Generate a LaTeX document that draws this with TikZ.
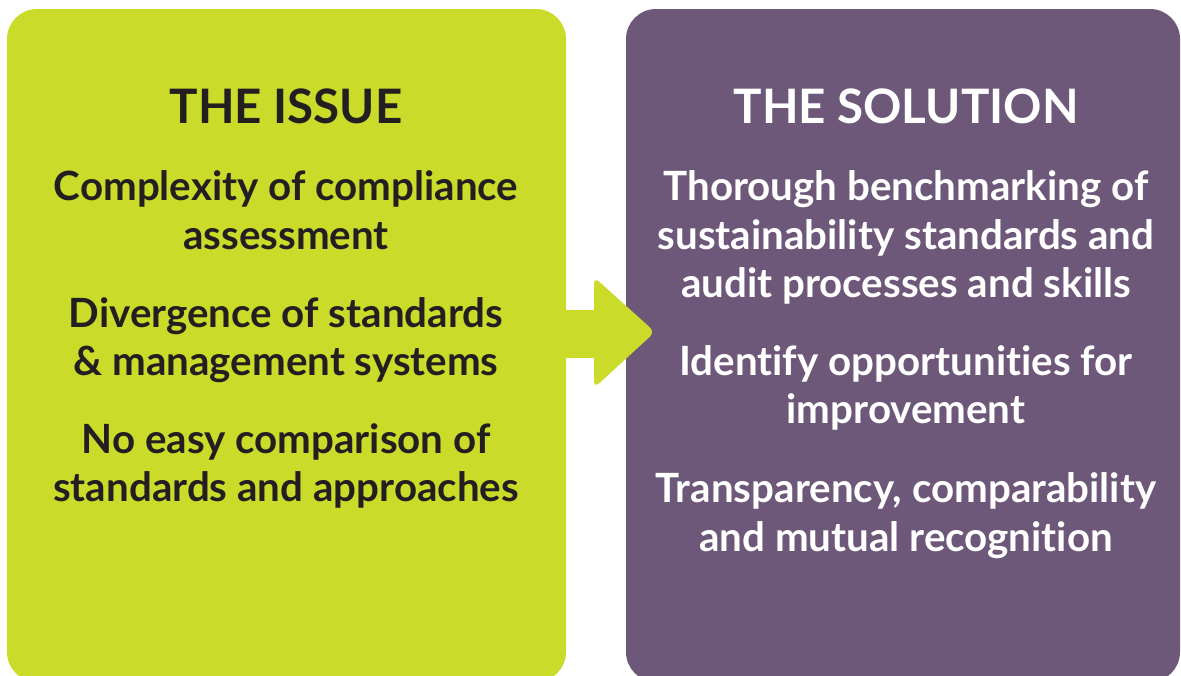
\documentclass[tikz,border=0pt]{standalone}
\usepackage{fontspec}
\setmainfont{Lato}[Ligatures=NoCommon]
\usetikzlibrary{positioning}
\definecolor{issuegreen}{HTML}{CBDB2A}
\definecolor{solpurple}{HTML}{6E5879}
\definecolor{darktext}{HTML}{231F20}

\begin{document}
\begin{tikzpicture}
  [x=1pt,y=-1pt,
   box/.style={rounded corners=30pt},
   title/.style={anchor=base,font=\fontsize{47.5}{56}\selectfont\bfseries},
   item/.style={anchor=base,align=center,font=\fontsize{40.3}{48.5}\selectfont\bfseries}]
  \useasboundingbox (0,0) rectangle (1181,675);

  % the two panels
  \fill[issuegreen,box] (7,9) rectangle (566,682);
  \fill[solpurple,box] (626,9) rectangle (1180,682);

  % block arrow
  \fill[issuegreen] (550,310) rectangle (600,358);
  \fill[issuegreen,rounded corners=7pt] (594,277) -- (655,332) -- (594,388) -- cycle;

  \node[title,text=darktext] (issue) at (286,123) {THE ISSUE};
  \node[title,text=white] (solution) at (906,123) {THE SOLUTION};

  % base anchor sits on the last line
  \node[item,text=darktext] (complexity) at (286,249) {Complexity of compliance\\assessment};
  \node[item,text=darktext] (divergence) at (286,375.5) {Divergence of standards\\\& management systems};
  \node[item,text=darktext] (nocompare) at (286,501.5) {No easy comparison of\\standards and approaches};

  \node[item,text=white] (benchmark) at (906,297.5) {Thorough benchmarking of\\sustainability standards and\\audit processes and skills};
  \node[item,text=white] (identify) at (906,423.5) {Identify opportunities for\\improvement};
  \node[item,text=white] (transparency) at (906,551) {Transparency, comparability\\and mutual recognition};

\end{tikzpicture}
\end{document}
